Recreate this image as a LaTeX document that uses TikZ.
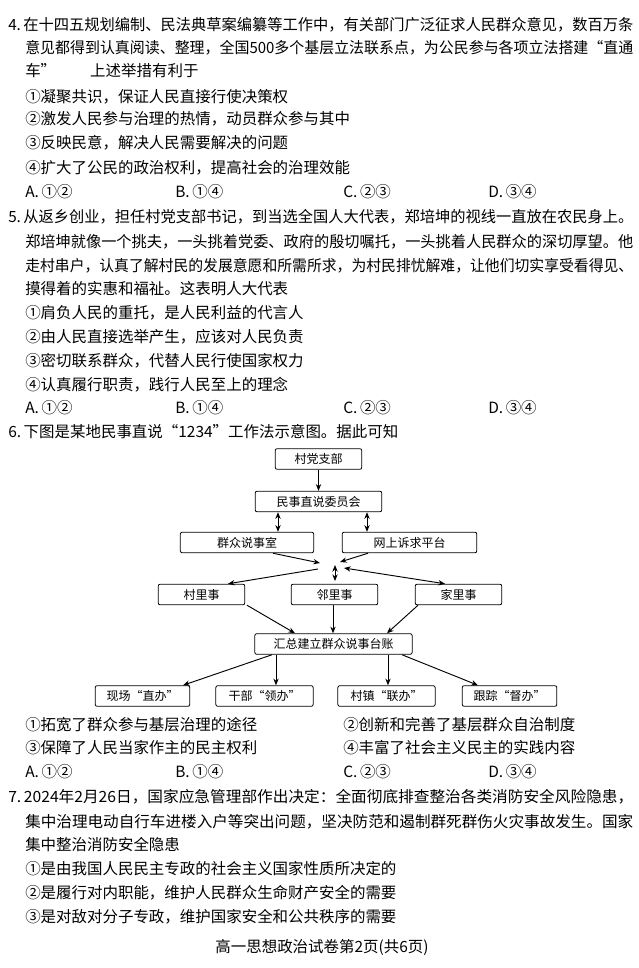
\documentclass[tikz,border=0pt]{standalone}
\usepackage{fontspec}
\usepackage{graphicx}
\setmainfont{Noto Sans CJK SC}
\usetikzlibrary{arrows.meta}
\newcommand{\fitA}[1]{\resizebox{468.75pt}{\height}{#1}}
\newcommand{\fitB}[1]{\resizebox{456pt}{\height}{#1}}
\begin{document}
\begin{tikzpicture}[x=0.75pt,y=-0.75pt,
  txt/.style={anchor=west,inner sep=0pt,font=\fontsize{11.6pt}{14pt}\selectfont},
  bx/.style={draw,rounded corners=1.5pt,line width=0.6pt,minimum height=15.5pt,inner sep=0pt,font=\fontsize{9pt}{10pt}\selectfont},
  arr/.style={-{Stealth[length=5pt,width=4pt]},line width=0.7pt},
  darr/.style={{Stealth[length=5pt,width=4pt]}-{Stealth[length=5pt,width=4pt]},line width=0.7pt}]
\useasboundingbox (0,0) rectangle (639,968);
\fill[white] (0,0) rectangle (639,968);
% question 4
\node[txt] (a1) at (8,25) {\fitA{4.\,在十四五规划编制、民法典草案编纂等工作中，有关部门广泛征求人民群众意见，数百万条}};
\node[txt] (a2) at (25,48) {\fitB{意见都得到认真阅读、整理，全国500多个基层立法联系点，为公民参与各项立法搭建“直通}};
\node[txt] (a3) at (25,71) {车”\hspace{2.2em}上述举措有利于};
\node[txt] (a4) at (25,97) {①凝聚共识，保证人民直接行使决策权};
\node[txt] (a5) at (25,119) {②激发人民参与治理的热情，动员群众参与其中};
\node[txt] (a6) at (25,143) {③反映民意，解决人民需要解决的问题};
\node[txt] (a7) at (25,168) {④扩大了公民的政治权利，提高社会的治理效能};
\node[txt] (a8) at (25,192) {A.\,①②};
\node[txt] (a9) at (175,192) {B.\,①④};
\node[txt] (a10) at (343,192) {C.\,②③};
\node[txt] (a11) at (488,192) {D.\,③④};
% question 5
\node[txt] (b1) at (8,217) {\fitA{5.\,从返乡创业，担任村党支部书记，到当选全国人大代表，郑培坤的视线一直放在农民身上。}};
\node[txt] (b2) at (25,242) {\fitB{郑培坤就像一个挑夫，一头挑着党委、政府的殷切嘱托，一头挑着人民群众的深切厚望。他}};
\node[txt] (b3) at (25,266) {\fitB{走村串户，认真了解村民的发展意愿和所需所求，为村民排忧解难，让他们切实享受看得见、}};
\node[txt] (b4) at (25,289) {摸得着的实惠和福祉。这表明人大代表};
\node[txt] (b5) at (25,313) {①肩负人民的重托，是人民利益的代言人};
\node[txt] (b6) at (25,337) {②由人民直接选举产生，应该对人民负责};
\node[txt] (b7) at (25,361) {③密切联系群众，代替人民行使国家权力};
\node[txt] (b8) at (25,385) {④认真履行职责，践行人民至上的理念};
\node[txt] (b9) at (25,408) {A.\,①②};
\node[txt] (b10) at (175,408) {B.\,①④};
\node[txt] (b11) at (343,408) {C.\,②③};
\node[txt] (b12) at (488,408) {D.\,③④};
\node[txt] (c1) at (8,432) {6.\,下图是某地民事直说“1234”工作法示意图。据此可知};
% diagram
\node[bx,minimum width=65pt] (p) at (318.5,459) {村党支部};
\node[bx,minimum width=95pt] (m) at (318.5,501.5) {民事直说委员会};
\node[bx,minimum width=100pt] (q) at (247,542.5) {群众说事室};
\node[bx,minimum width=101pt] (w) at (409.5,542.5) {网上诉求平台};
\node[bx,minimum width=65pt] (v) at (201.5,594.5) {村里事};
\node[bx,minimum width=65pt] (n) at (334.5,594.5) {邻里事};
\node[bx,minimum width=65pt] (h) at (458.5,594.5) {家里事};
\node[bx,minimum width=118pt] (s) at (333.5,644) {汇总建立群众说事台账};
\node[bx,minimum width=71pt] (d1) at (142.5,696) {现场“直办”};
\node[bx,minimum width=73pt] (d2) at (264.5,696) {干部“领办”};
\node[bx,minimum width=73pt] (d3) at (386.5,696) {村镇“联办”};
\node[bx,minimum width=71pt] (d4) at (509.5,696) {跟踪“督办”};
\draw[arr] (p) -- (m);
\draw[darr] (m.south -| 278,0) -- (q.north -| 278,0);
\draw[darr] (m.south -| 367,0) -- (w.north -| 367,0);
\coordinate (k1) at (320,563);
\coordinate (k2) at (340,562);
\coordinate (k3) at (335,565);
\coordinate (k4) at (335,581);
\coordinate (k5) at (318,569);
\coordinate (k6) at (344,568);
\draw[arr] (q.south -| 273,0) -- (k1);
\draw[arr] (w.south -| 368,0) -- (k2);
\draw[darr] (k3) -- (k4);
\draw[arr] (k5) -- (v.north -| 228,0);
\draw[darr] (k6) -- (h.north -| 445,0);
\draw[arr] (v.south -| 247,0) -- (s.north -| 295,0);
\draw[arr] (n.south -| 333,0) -- (s.north -| 333,0);
\draw[arr] (h.south -| 418,0) -- (s.north -| 387,0);
\draw[arr] (s.south -| 272,0) -- (d1.north -| 183,0);
\draw[arr] (s.south -| 276,0) -- (d2.north -| 276,0);
\draw[arr] (s.south -| 388,0) -- (d3.north -| 388,0);
\draw[arr] (s.south -| 402,0) -- (d4.north -| 478,0);
% options of 6
\node[txt] (c2) at (25,725) {①拓宽了群众参与基层治理的途径};
\node[txt] (c3) at (343,725) {②创新和完善了基层群众自治制度};
\node[txt] (c4) at (25,748) {③保障了人民当家作主的民主权利};
\node[txt] (c5) at (343,748) {④丰富了社会主义民主的实践内容};
\node[txt] (c6) at (25,772) {A.\,①②};
\node[txt] (c7) at (175,772) {B.\,①④};
\node[txt] (c8) at (343,772) {C.\,②③};
\node[txt] (c9) at (488,772) {D.\,③④};
% question 7
\node[txt] (e1) at (8,797) {\fitA{7.\,2024年2月26日，国家应急管理部作出决定：全面彻底排查整治各类消防安全风险隐患，}};
\node[txt] (e2) at (25,822) {\fitB{集中治理电动自行车进楼入户等突出问题，坚决防范和遏制群死群伤火灾事故发生。国家}};
\node[txt] (e3) at (25,845) {集中整治消防安全隐患};
\node[txt] (e4) at (25,869) {①是由我国人民民主专政的社会主义国家性质所决定的};
\node[txt] (e5) at (25,893) {②是履行对内职能，维护人民群众生命财产安全的需要};
\node[txt] (e6) at (25,917) {③是对敌对分子专政，维护国家安全和公共秩序的需要};
\node[txt,anchor=center] (f) at (322,947) {高一思想政治试卷第2页(共6页)};
\end{tikzpicture}
\end{document}
